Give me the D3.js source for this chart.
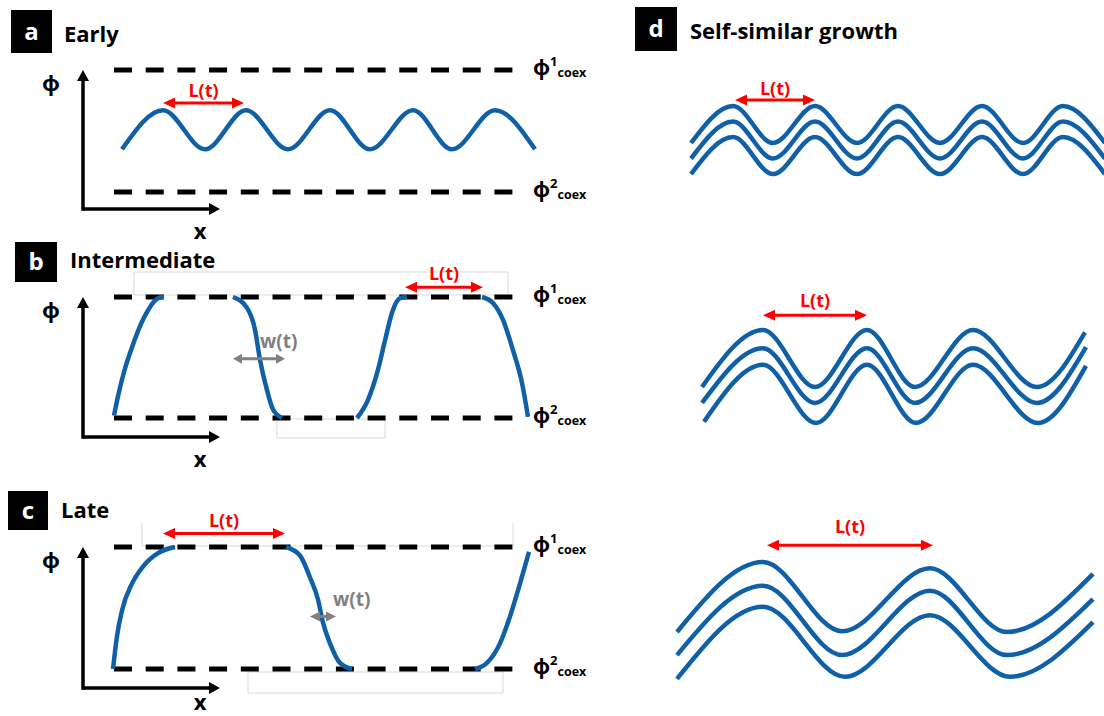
<!DOCTYPE html>
<html>
<head>
<meta charset="utf-8">
<script src="https://cdn.jsdelivr.net/npm/d3@7"></script>
<style>
  body { margin: 0; background: #fff; }
  svg text { font-family: "Open Sans", "Noto Sans", sans-serif; font-weight: 700; }
</style>
</head>
<body>
<svg id="chart" width="1104" height="716"></svg>
<script>
// ---------------- DATA ----------------
const panelLetters = ["a", "b", "c", "d"];
const panelTitles = ["Early", "Intermediate", "Late", "Self-similar growth"];
const coexSup = ["1", "2"];           // phi^1_coex (upper), phi^2_coex (lower)
const coexLevels = [1, 0];            // normalised phi levels of the coexistence values

// Panel a (Early): small-amplitude wave, extrema (x in schematic length units, phi normalised)
const earlyX   = [8, 49, 91, 132, 174, 216, 256, 299, 338, 381, 421];
const earlyPhi = [0.35, 0.67, 0.35, 0.67, 0.35, 0.67, 0.35, 0.67, 0.35, 0.67, 0.35];

// Panel b (Intermediate): interface segments
const interX = [
  [0, 4, 10, 17, 30, 44, 49],
  [119, 133, 141, 146, 153, 159, 168],
  [243, 254, 264, 271, 278, 286, 293],
  [368, 379, 389, 399, 408, 414]
];
const interPhi = [
  [0.02, 0.18, 0.38, 0.56, 0.83, 0.99, 1.0],
  [1.0, 0.91, 0.73, 0.48, 0.23, 0.07, 0.0],
  [0.0, 0.15, 0.40, 0.64, 0.87, 0.99, 1.0],
  [1.0, 0.95, 0.81, 0.56, 0.29, 0.01]
];

// Panel c (Late): interface segments
const lateX = [
  [-1, 3, 8, 18, 29, 44, 61],
  [172, 186, 196, 204, 209, 216, 226, 238],
  [361, 373, 386, 396, 406, 415]
];
const latePhi = [
  [0.0, 0.27, 0.48, 0.70, 0.84, 0.95, 1.0],
  [1.0, 0.93, 0.75, 0.57, 0.38, 0.21, 0.05, 0.0],
  [0.0, 0.05, 0.21, 0.43, 0.70, 0.96]
];

// Panel d (Self-similar growth): three parallel interfaces per time
const dTopX = [16, 58, 98, 140, 182, 223, 265, 307, 348, 388, 430];
const dTopLines = [
  [0, 1, 0, 1, 0, 1, 0, 1, 0, 1, 0],
  [-0.42, 0.58, -0.42, 0.58, -0.42, 0.58, -0.42, 0.58, -0.42, 0.58, -0.42],
  [-0.84, 0.16, -0.84, 0.16, -0.84, 0.16, -0.84, 0.16, -0.84, 0.16, -0.84]
];
const dMidX = [
  [27, 88, 140, 192, 240, 298, 362, 410],
  [27, 88, 140, 192, 240, 298, 362, 411],
  [29, 88, 141, 192, 241, 298, 363, 411]
];
const dMidLines = [
  [0, 1, 0, 1, 0, 1, 0, 0.96],
  [-0.28, 0.68, -0.28, 0.68, -0.28, 0.68, -0.28, 0.70],
  [-0.61, 0.39, -0.63, 0.39, -0.63, 0.39, -0.63, 0.37]
];
const dBotX = [
  [2, 88, 167, 255, 332, 418],
  [2, 88, 167, 255, 332, 418],
  [2, 88, 170, 255, 335, 418]
];
const dBotLines = [
  [0, 1, 0.01, 0.91, 0, 0.83],
  [-0.33, 0.66, -0.33, 0.59, -0.33, 0.47],
  [-0.67, 0.36, -0.64, 0.24, -0.64, 0.14]
];

// Annotations: [x1, x2, arrow level, label level]
const lenLabel = "L(t)";
const widthLabel = "w(t)";
const lenArrowsLeft = [[49, 130, 0.73, 0.78], [291, 369, 1.08, 1.14], [49, 171, 1.11, 1.16]];
const widthArrows = [null, [119, 171, 0.49, 0.58], [196, 222, 0.43, 0.52]];
const widthLabelX = [null, 146, 219];
const lenArrowsD = [[60, 140, 1.16, 1.30], [88, 192, 1.26, 1.40], [92, 258, 1.24, 1.41]];

// ---------------- DRAW ----------------
const svg = d3.select("#chart");
const BLUE = "#1060a8", RED = "#ff0000", GREY = "#808080";
const GREEK = "'Noto Sans', 'DejaVu Sans', sans-serif";

const defsCurve = d3.curveMonotoneX;

function doubleArrow(g, x1, x2, y, color, width, headLen, headHalf) {
  g.append("line").attr("x1", x1 + headLen - 1).attr("x2", x2 - headLen + 1)
    .attr("y1", y).attr("y2", y).attr("stroke", color).attr("stroke-width", width);
  g.append("path").attr("d", `M${x1},${y}L${x1 + headLen},${y - headHalf}L${x1 + headLen},${y + headHalf}Z`).attr("fill", color);
  g.append("path").attr("d", `M${x2},${y}L${x2 - headLen},${y - headHalf}L${x2 - headLen},${y + headHalf}Z`).attr("fill", color);
}

function letterBox(x, y, w, h, letter) {
  svg.append("rect").attr("x", x).attr("y", y).attr("width", w).attr("height", h).attr("fill", "#000");
  svg.append("text").attr("x", x + w / 2).attr("y", y + h / 2 + 8).attr("text-anchor", "middle")
    .attr("fill", "#fff").attr("font-size", 24).text(letter);
}

// left panels layout
const xL = d3.scaleLinear().domain([0, 420]).range([114, 534]);
const leftLayout = [
  { box: [11, 10, 41, 43], titleX: 64, titleY: 42, top: 70, bot: 192, axisY: 209, xLab: 30 },
  { box: [15, 242, 42, 40], titleX: 70, titleY: 268, top: 297, bot: 418, axisY: 437, xLab: 30 },
  { box: [8, 491, 40, 39], titleX: 61, titleY: 518, top: 547, bot: 669, axisY: 688, xLab: 22 }
];
// faint grey boxes present in the original figure: [x, y, w, h, drawTopEdge]
const ghostBoxes = [[], [[134, 272, 374, 23, true], [277, 419, 108, 19, true]], [[142, 523, 371, 23, false], [248, 672, 255, 21, true]]];

const segData = [
  [earlyX.map((x, i) => [x, earlyPhi[i]])],
  interX.map((xs, s) => xs.map((x, i) => [x, interPhi[s][i]])),
  lateX.map((xs, s) => xs.map((x, i) => [x, latePhi[s][i]]))
];

leftLayout.forEach((L, p) => {
  const g = svg.append("g");
  const y = d3.scaleLinear().domain([0, 1]).range([L.bot, L.top]);

  ghostBoxes[p].forEach(b => {
    const [bx, by, bw, bh, topEdge] = b;
    const d = topEdge
      ? `M${bx},${by}H${bx + bw}V${by + bh}H${bx}Z`
      : `M${bx},${by}V${by + bh}H${bx + bw}V${by}`;
    g.append("path").attr("d", d).attr("fill", "none").attr("stroke", "#d9d9d9").attr("stroke-width", 1);
  });

  letterBox(...L.box, panelLetters[p]);
  svg.append("text").attr("x", L.titleX).attr("y", L.titleY).attr("font-size", 22).attr("fill", "#000").text(panelTitles[p]);

  // axes
  const ax = 83;
  g.append("line").attr("x1", ax).attr("x2", ax).attr("y1", L.axisY + 1.75).attr("y2", L.top + 10)
    .attr("stroke", "#000").attr("stroke-width", 3.5);
  g.append("path").attr("d", `M${ax},${L.top}L${ax - 6},${L.top + 11}L${ax + 6},${L.top + 11}Z`).attr("fill", "#000");
  g.append("line").attr("x1", ax).attr("x2", 210).attr("y1", L.axisY).attr("y2", L.axisY)
    .attr("stroke", "#000").attr("stroke-width", 3.5);
  g.append("path").attr("d", `M220,${L.axisY}L209,${L.axisY - 6}L209,${L.axisY + 6}Z`).attr("fill", "#000");
  g.append("text").attr("x", 51).attr("y", L.top + 21).attr("text-anchor", "middle")
    .attr("font-size", 22).style("font-family", GREEK).text("ϕ");
  g.append("text").attr("x", 200).attr("y", L.axisY + L.xLab).attr("text-anchor", "middle")
    .attr("font-size", 22).text("x");

  // coexistence lines
  coexLevels.forEach((lv, k) => {
    g.append("line").attr("x1", xL(0)).attr("x2", xL(399)).attr("y1", y(lv)).attr("y2", y(lv))
      .attr("stroke", "#000").attr("stroke-width", 5).attr("stroke-dasharray", "18,13.7");
    const t = g.append("text").attr("x", 533).attr("y", y(lv) + 5).style("font-family", GREEK);
    t.append("tspan").attr("font-size", 21).text("ϕ");
    t.append("tspan").attr("font-size", 13).attr("dy", -9).style("font-family", "'Open Sans', sans-serif").text(coexSup[k]);
    t.append("tspan").attr("font-size", 12.5).attr("dy", 11).style("font-family", "'Open Sans', sans-serif").text("coex");
  });

  // profile
  const line = d3.line().x(d => xL(d[0])).y(d => y(d[1])).curve(defsCurve);
  segData[p].forEach(seg => {
    g.append("path").attr("d", line(seg)).attr("fill", "none").attr("stroke", BLUE)
      .attr("stroke-width", 4.5).attr("stroke-linecap", "butt");
  });

  // L(t)
  const la = lenArrowsLeft[p];
  doubleArrow(g, xL(la[0]), xL(la[1]), y(la[2]), RED, 3, 12, 5.5);
  g.append("text").attr("x", xL((la[0] + la[1]) / 2)).attr("y", y(la[3])).attr("text-anchor", "middle")
    .attr("fill", RED).attr("font-size", 18).text(lenLabel);

  // w(t)
  const wa = widthArrows[p];
  if (wa) {
    const hl = (wa[1] - wa[0]) < 40 ? 10 : 9;
    doubleArrow(g, xL(wa[0]), xL(wa[1]), y(wa[2]), GREY, 3, hl, 5);
    g.append("text").attr("x", xL(widthLabelX[p])).attr("y", y(wa[3]))
      .attr("fill", GREY).attr("font-size", 19).text(widthLabel);
  }
});

// panel d
letterBox(635, 7, 42, 44, panelLetters[3]);
svg.append("text").attr("x", 690).attr("y", 39).attr("font-size", 22).attr("fill", "#000").text(panelTitles[3]);

const xD = d3.scaleLinear().domain([0, 430]).range([675, 1105]);
const dRows = [
  { trough: 143, peak: 106, xs: dTopLines.map(() => dTopX), vals: dTopLines },
  { trough: 387, peak: 330, xs: dMidX, vals: dMidLines },
  { trough: 632, peak: 562, xs: dBotX, vals: dBotLines }
];
dRows.forEach((R, r) => {
  const g = svg.append("g");
  const y = d3.scaleLinear().domain([0, 1]).range([R.trough, R.peak]);
  const line = d3.line().x(d => xD(d[0])).y(d => y(d[1])).curve(defsCurve);
  R.vals.forEach((vals, k) => {
    const pts = vals.map((v, i) => [R.xs[k][i], v]);
    g.append("path").attr("d", line(pts)).attr("fill", "none").attr("stroke", BLUE).attr("stroke-width", 4.5);
  });
  const la = lenArrowsD[r];
  doubleArrow(g, xD(la[0]), xD(la[1]), y(la[2]), RED, 3, 12, 5.5);
  g.append("text").attr("x", xD((la[0] + la[1]) / 2)).attr("y", y(la[3])).attr("text-anchor", "middle")
    .attr("fill", RED).attr("font-size", 18).text(lenLabel);
});
</script>
</body>
</html>
